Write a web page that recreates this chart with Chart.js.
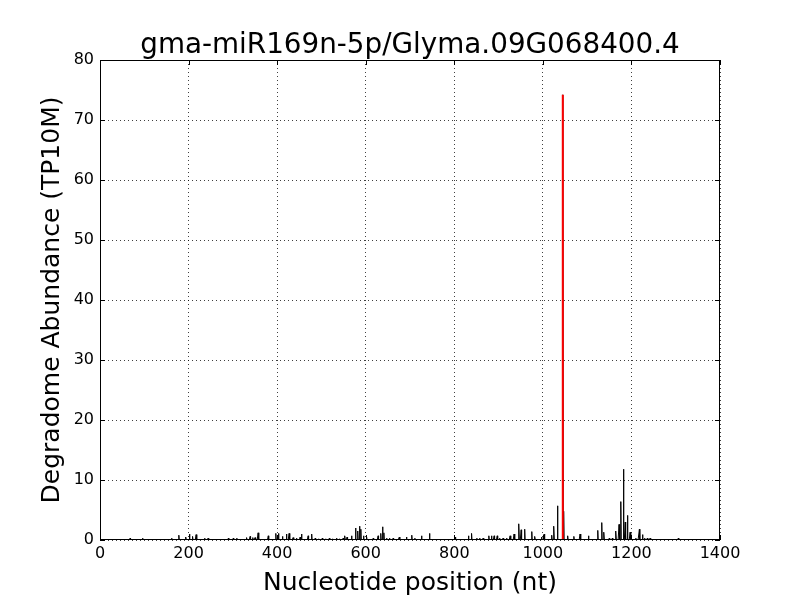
<!DOCTYPE html>
<html>
<head>
<meta charset="utf-8">
<script src="https://cdn.jsdelivr.net/npm/chart.js@4.4.0/dist/chart.umd.min.js"></script>
<style>
  html, body { margin: 0; padding: 0; background: #fff; }
  canvas { display: block; }
</style>
</head>
<body>
<canvas id="grafico" width="800" height="600"></canvas>
<script>
// dados (posição em nt, abundância em TP10M)
const posicoes = [68, 96, 162, 178, 194, 202, 209, 217, 237, 244, 290, 301, 309, 331, 339, 345, 350, 357,
  380, 397, 403, 412, 421, 427, 436, 444, 452, 455, 470, 478, 486, 494, 502, 510, 518, 526, 534, 541, 549,
  553, 558, 568, 577, 582, 586, 589, 595, 602, 617, 628, 634, 638, 641, 647, 654, 662, 676, 692, 704, 711,
  726, 744, 802, 832, 839, 851, 858, 865, 878, 884, 890, 897, 903, 910, 918, 926, 935, 946, 951, 959, 975,
  982, 997, 1003, 1020, 1025, 1033, 1045, 1047, 1056, 1070, 1084, 1103, 1124, 1133, 1138, 1150, 1157, 1165,
  1172, 1176, 1182, 1186, 1191, 1197, 1210, 1218, 1225, 1230, 1236, 1242, 1306];
const abundancias = [0.3, 0.3, 0.3, 0.8, 0.5, 1.0, 0.6, 0.9, 0.3, 0.3, 0.3, 0.3, 0.3, 0.4, 0.6, 0.4, 0.4, 1.2,
  0.7, 1.1, 1.1, 0.6, 1.0, 1.1, 0.4, 0.3, 0.5, 1.0, 0.7, 1.0, 0.3, 0.2, 0.3, 0.2, 0.3, 0.2, 0.3, 0.2, 0.3,
  0.7, 0.5, 0.7, 2.0, 1.5, 2.3, 1.8, 0.7, 0.5, 0.3, 0.7, 1.1, 2.2, 1.2, 0.3, 0.3, 0.3, 0.5, 0.5, 0.8, 0.3,
  0.7, 1.1, 0.5, 0.7, 1.1, 0.3, 0.3, 0.3, 0.7, 0.7, 0.7, 0.7, 0.3, 0.3, 0.3, 0.7, 1.0, 2.7, 1.7, 1.8, 1.4,
  0.6, 0.5, 1.0, 0.8, 2.3, 5.7, 74.2, 4.8, 0.7, 0.6, 1.0, 0.7, 1.6, 2.9, 1.3, 0.3, 0.3, 1.5,
  2.6, 6.4, 11.8, 3.0, 4.1, 1.3, 0.3, 1.8, 0.9, 0.3, 0.3, 0.3, 0.3];
const comprimento = 1310;

// sítio de clivagem (em vermelho)
const sitioPos = 1045;
const sitioValor = 74.2;

const xTicks = [0, 200, 400, 600, 800, 1000, 1200, 1400];
const yTicks = [0, 10, 20, 30, 40, 50, 60, 70, 80];
const titulo = 'gma-miR169n-5p/Glyma.09G068400.4';

// perfil completo: zero nas posições sem leitura
const mapa = {};
posicoes.forEach((p, i) => { mapa[p] = abundancias[i]; });
const perfil = [];
for (let p = 1; p <= comprimento; p++) {
  perfil.push({ x: p, y: mapa[p] || 0 });
}

const fonte = '"DejaVu Sans", sans-serif';

// moldura, marcas internas e título centrado na área do gráfico
const moldura = {
  id: 'moldura',
  afterDraw(chart) {
    const { ctx, chartArea: a, scales } = chart;
    ctx.save();
    ctx.strokeStyle = '#000';
    ctx.lineWidth = 1;
    ctx.strokeRect(Math.round(a.left) + 0.5, Math.round(a.top) + 0.5,
      Math.round(a.right - a.left) - 1, Math.round(a.bottom - a.top) - 1);
    ctx.beginPath();
    xTicks.forEach(v => {
      const px = Math.round(scales.x.getPixelForValue(v)) + 0.5;
      ctx.moveTo(px, a.bottom); ctx.lineTo(px, a.bottom - 5);
      ctx.moveTo(px, a.top); ctx.lineTo(px, a.top + 5);
    });
    yTicks.forEach(v => {
      const py = Math.round(scales.y.getPixelForValue(v)) + 0.5;
      ctx.moveTo(a.left, py); ctx.lineTo(a.left + 5, py);
      ctx.moveTo(a.right, py); ctx.lineTo(a.right - 5, py);
    });
    ctx.stroke();

    ctx.fillStyle = '#000';
    ctx.font = '27.8px ' + fonte;
    ctx.textAlign = 'center';
    ctx.textBaseline = 'alphabetic';
    ctx.fillText(titulo, (a.left + a.right) / 2, 53);
    ctx.restore();
  }
};

new Chart(document.getElementById('grafico').getContext('2d'), {
  type: 'line',
  data: {
    datasets: [
      {
        data: [{ x: sitioPos, y: 0 }, { x: sitioPos, y: sitioValor }],
        borderColor: '#ff0000',
        borderWidth: 2,
        pointRadius: 0,
        order: 0
      },
      {
        data: perfil,
        borderColor: '#000',
        borderWidth: 1,
        pointRadius: 0,
        tension: 0,
        order: 1
      }
    ]
  },
  options: {
    responsive: false,
    animation: false,
    devicePixelRatio: 1,
    layout: { padding: { top: 60, right: 80, left: 0, bottom: 0 } },
    plugins: {
      legend: { display: false },
      tooltip: { enabled: false },
      title: { display: false }
    },
    scales: {
      x: {
        type: 'linear',
        min: 0,
        max: 1400,
        afterFit(s) { s.height = 60; },
        afterBuildTicks(s) { s.ticks = xTicks.map(v => ({ value: v })); },
        ticks: {
          color: '#000', font: { family: fonte, size: 16 }, padding: 4, maxRotation: 0,
          callback: v => String(v)
        },
        grid: { color: 'rgba(0,0,0,0.75)', drawTicks: false },
        border: { display: false, dash: [1, 3] },
        title: {
          display: true,
          text: 'Nucleotide position (nt)',
          color: '#000',
          font: { family: fonte, size: 25 },
          padding: { top: 0, bottom: 2 }
        }
      },
      y: {
        min: 0,
        max: 80,
        afterFit(s) { s.width = 100; },
        afterBuildTicks(s) { s.ticks = yTicks.map(v => ({ value: v })); },
        ticks: {
          color: '#000', font: { family: fonte, size: 16 }, padding: 6,
          callback: v => String(v)
        },
        grid: { color: 'rgba(0,0,0,0.75)', drawTicks: false },
        border: { display: false, dash: [1, 3] },
        title: {
          display: true,
          text: 'Degradome Abundance (TP10M)',
          color: '#000',
          font: { family: fonte, size: 25 },
          padding: { top: 37, bottom: 0 }
        }
      }
    }
  },
  plugins: [moldura]
});
</script>
</body>
</html>
